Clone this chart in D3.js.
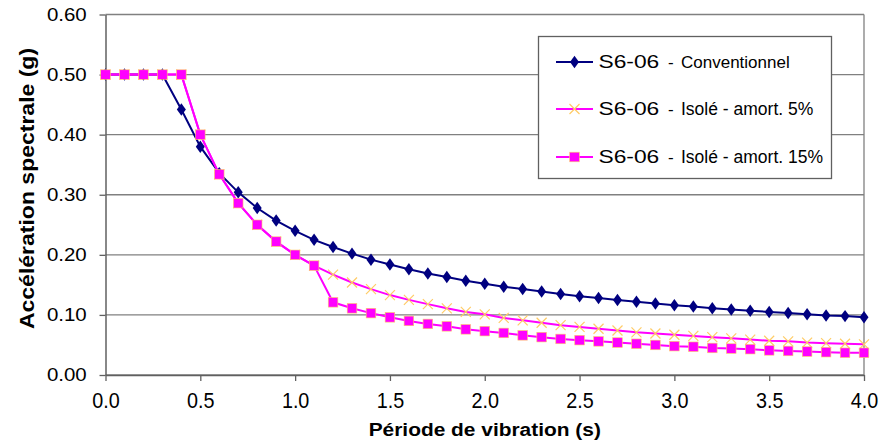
<!DOCTYPE html>
<html>
<head>
<meta charset="utf-8">
<script src="https://cdn.jsdelivr.net/npm/d3@7"></script>
<style>
  body { margin: 0; background: #fff; }
  text { font-family: "Liberation Sans", Arial, sans-serif; }
</style>
</head>
<body>
<svg id="chart" width="880" height="442"></svg>
<script>
// Periods (s)
const periods = d3.range(0, 41).map(i => +(i / 10).toFixed(1));

// S6-06 - Conventionnel
const conventionnel = [
  0.500, 0.500, 0.500, 0.500, 0.442, 0.380, 0.336, 0.304, 0.278, 0.257,
  0.240, 0.225, 0.213, 0.202, 0.192, 0.184, 0.176, 0.169, 0.163, 0.157,
  0.152, 0.147, 0.143, 0.139, 0.135, 0.131, 0.128, 0.125, 0.122, 0.119,
  0.116, 0.114, 0.111, 0.109, 0.107, 0.105, 0.103, 0.101, 0.099, 0.098,
  0.096
];

// S6-06 - Isolé - amort. 5%
const isole5 = [
  0.500, 0.500, 0.500, 0.500, 0.500, 0.400, 0.334, 0.286, 0.250, 0.222,
  0.200, 0.182, 0.167, 0.154, 0.143, 0.133, 0.125, 0.118, 0.111, 0.105,
  0.101, 0.095, 0.091, 0.087, 0.083, 0.080, 0.077, 0.074, 0.071, 0.069,
  0.067, 0.065, 0.063, 0.061, 0.059, 0.057, 0.056, 0.054, 0.053, 0.052,
  0.051
];

// S6-06 - Isolé - amort. 15%
const isole15 = [
  0.500, 0.500, 0.500, 0.500, 0.500, 0.400, 0.334, 0.286, 0.250, 0.222,
  0.200, 0.182, 0.121, 0.111, 0.103, 0.096, 0.090, 0.085, 0.081, 0.076,
  0.073, 0.070, 0.066, 0.063, 0.060, 0.058, 0.056, 0.054, 0.052, 0.050,
  0.048, 0.047, 0.045, 0.044, 0.043, 0.041, 0.040, 0.039, 0.038, 0.037,
  0.037
];

const xTicks = [0, 0.5, 1, 1.5, 2, 2.5, 3, 3.5, 4];
const yTicks = [0, 0.1, 0.2, 0.3, 0.4, 0.5, 0.6];

const svg = d3.select('#chart');
const margin = { left: 105.5, right: 16, top: 14.5, bottom: 67 };
const width = 880 - margin.left - margin.right;
const height = 442 - margin.top - margin.bottom;

const x = d3.scaleLinear().domain([0, 4]).range([0, width]);
const y = d3.scaleLinear().domain([0, 0.6]).range([height, 0]);

const g = svg.append('g').attr('transform', `translate(${margin.left},${margin.top})`);

// Horizontal gridlines
g.append('g')
  .selectAll('line')
  .data(yTicks)
  .join('line')
  .attr('x1', 0).attr('x2', width)
  .attr('y1', d => y(d)).attr('y2', d => y(d))
  .attr('stroke', '#808080')
  .attr('stroke-width', 1.3);

// Plot border (right side)
g.append('line')
  .attr('x1', width).attr('x2', width)
  .attr('y1', 0).attr('y2', height)
  .attr('stroke', '#808080')
  .attr('stroke-width', 1.3);

// Axes
const yAxis = g.append('g')
  .call(d3.axisLeft(y).tickValues(yTicks).tickFormat(d3.format('.2f')).tickSize(6).tickSizeOuter(0));
const xAxis = g.append('g')
  .attr('transform', `translate(0,${height})`)
  .call(d3.axisBottom(x).tickValues(xTicks).tickFormat(d3.format('.1f')).tickSize(6).tickSizeOuter(0));

[xAxis, yAxis].forEach(ax => {
  ax.select('.domain').attr('stroke', '#606060').attr('stroke-width', 1.5);
  ax.selectAll('.tick line').attr('stroke', '#606060').attr('stroke-width', 1.3);
  ax.selectAll('.tick text')
    .attr('fill', '#000')
    .style('font-family', '"Liberation Sans", Arial, sans-serif');
});
// y labels: slightly wide
yAxis.selectAll('.tick text')
  .style('font-size', '18.6px')
  .attr('x', -18.8 / 1.1)
  .attr('transform', 'scale(1.1,1)');
// x labels: tall and narrow
xAxis.selectAll('.tick text')
  .style('font-size', '22px')
  .attr('y', 32.7)
  .attr('dy', 0)
  .attr('transform', 'scale(0.9,1)');

// Axis titles
svg.append('text')
  .attr('transform', `translate(${margin.left + width / 2},436) scale(1.1,1)`)
  .attr('text-anchor', 'middle')
  .style('font-size', '19px')
  .style('font-weight', 'bold')
  .text('Période de vibration (s)');

svg.append('text')
  .attr('transform', 'translate(34,188.5) rotate(-90) scale(1.15,1)')
  .attr('text-anchor', 'middle')
  .style('font-size', '20px')
  .style('font-weight', 'bold')
  .text('Accélération spectrale (g)');

// Series
const series = [
  { name: 'Conventionnel', values: conventionnel, color: '#000080', symbol: 'diamond', size: 17 },
  { name: 'Isolé - amort. 5%', values: isole5, color: '#FF00FF', symbol: 'cross', size: 17.5 },
  { name: 'Isolé - amort. 15%', values: isole15, color: '#FF00FF', symbol: 'square', size: 17.5 }
];

const line = d3.line()
  .x(d => x(d[0]))
  .y(d => y(d[1]));

function drawMarker(sel, type, color) {
  if (type === 'diamond') {
    sel.append('path')
      .attr('d', d3.symbol().type(d3.symbolDiamond).size(45))
      .attr('transform', 'scale(1.25,1)')
      .attr('fill', color);
  } else if (type === 'square') {
    sel.append('rect')
      .attr('x', -4.8).attr('y', -4.8)
      .attr('width', 9.6).attr('height', 9.6)
      .attr('fill', color)
      .attr('stroke', '#FFCC66')
      .attr('stroke-width', 0.6);
  } else if (type === 'cross') {
    sel.append('path')
      .attr('d', 'M-5,-5L5,5M-5,5L5,-5')
      .attr('stroke', '#FFCC66')
      .attr('stroke-width', 1.2)
      .attr('fill', 'none');
  }
}

series.forEach(s => {
  const pts = periods.map((p, i) => [p, s.values[i]]);
  const sg = g.append('g');
  sg.append('path')
    .datum(pts)
    .attr('d', line)
    .attr('fill', 'none')
    .attr('stroke', s.color)
    .attr('stroke-width', 2);
  sg.selectAll('g.pt')
    .data(pts)
    .join('g')
    .attr('class', 'pt')
    .attr('transform', d => `translate(${x(d[0])},${y(d[1])})`)
    .each(function () { drawMarker(d3.select(this), s.symbol, s.color); });
});

// Legend
const legend = svg.append('g').attr('transform', 'translate(538.5,36.5)');
legend.append('rect')
  .attr('width', 293).attr('height', 142)
  .attr('fill', '#fff')
  .attr('stroke', '#606060')
  .attr('stroke-width', 1.3);

const rowY = [25.5, 72.5, 120.5];
series.forEach((s, i) => {
  const row = legend.append('g').attr('transform', `translate(0,${rowY[i]})`);
  row.append('line')
    .attr('x1', 17.5).attr('x2', 54.5)
    .attr('stroke', s.color)
    .attr('stroke-width', 2);
  const m = row.append('g').attr('transform', 'translate(36,0)');
  drawMarker(m, s.symbol, s.color);
  row.append('text')
    .attr('transform', 'translate(60,5.5) scale(1.2,1)')
    .style('font-size', '19px')
    .text('S6-06');
  const t = row.append('text').attr('y', 5.5);
  t.append('tspan')
    .attr('x', 129.5)
    .style('font-size', '17px')
    .text('-');
  t.append('tspan')
    .attr('x', 142.5)
    .style('font-size', `${s.size}px`)
    .text(s.name);
});
</script>
</body>
</html>
